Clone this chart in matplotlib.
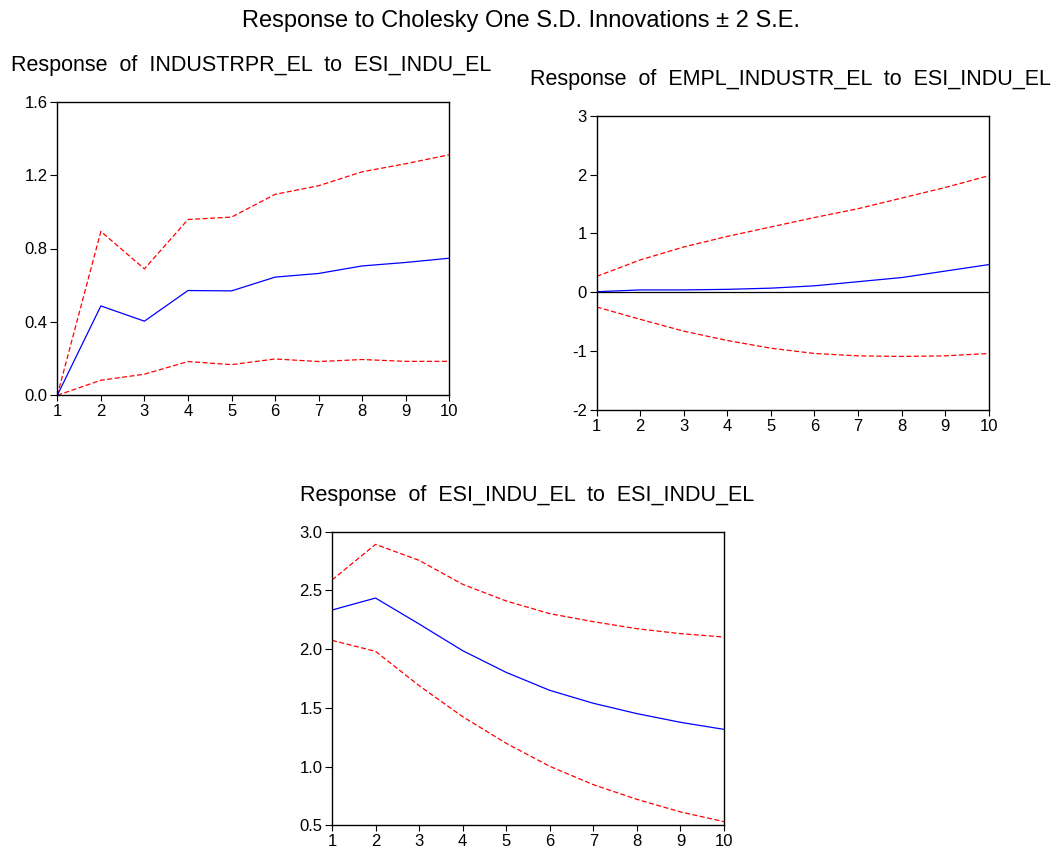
import numpy as np
import matplotlib.pyplot as plt

plt.rcParams['font.family'] = ['Liberation Sans', 'DejaVu Sans']

periods = np.arange(1, 11)

# Response of INDUSTRPR_EL to ESI_INDU_EL
ind_resp = [0.0, 0.487, 0.404, 0.571, 0.569, 0.644, 0.664, 0.705, 0.724, 0.747]
ind_up = [0.0, 0.893, 0.689, 0.958, 0.971, 1.095, 1.142, 1.218, 1.262, 1.311]
ind_lo = [0.0, 0.082, 0.115, 0.184, 0.167, 0.198, 0.184, 0.195, 0.185, 0.185]

# Response of EMPL_INDUSTR_EL to ESI_INDU_EL
emp_resp = [0.01, 0.04, 0.04, 0.05, 0.07, 0.11, 0.18, 0.25, 0.36, 0.47]
emp_up = [0.27, 0.55, 0.77, 0.95, 1.11, 1.27, 1.42, 1.60, 1.78, 1.98]
emp_lo = [-0.25, -0.46, -0.66, -0.82, -0.95, -1.04, -1.08, -1.09, -1.08, -1.04]

# Response of ESI_INDU_EL to ESI_INDU_EL
esi_resp = [2.333, 2.435, 2.214, 1.987, 1.802, 1.649, 1.539, 1.451, 1.377, 1.317]
esi_up = [2.589, 2.892, 2.756, 2.552, 2.410, 2.302, 2.234, 2.174, 2.132, 2.103]
esi_lo = [2.075, 1.981, 1.689, 1.425, 1.198, 1.002, 0.846, 0.721, 0.614, 0.531]

W, H = 1059, 851
fig = plt.figure(figsize=(W/100, H/100), dpi=100)

def px_axes(left, top, right, bottom):
    return fig.add_axes([left/W, 1 - bottom/H, (right-left)/W, (bottom-top)/H])

def panel(ax, resp, up, lo, ylim, yticks, fmt, zero=False):
    if zero:
        ax.axhline(0, color='black', lw=0.9)
    ax.plot(periods, up, color='red', lw=0.9, ls=(0, (4, 2)))
    ax.plot(periods, lo, color='red', lw=0.9, ls=(0, (4, 2)))
    ax.plot(periods, resp, color='blue', lw=0.9)
    ax.set_xlim(1, 10)
    ax.set_ylim(*ylim)
    ax.set_xticks(periods)
    ax.set_yticks(yticks)
    ax.set_yticklabels([fmt % v for v in yticks])
    ax.tick_params(direction='out', length=5, width=0.8, labelsize=12, colors='black')
    ax.tick_params(axis='y', pad=2)
    ax.tick_params(axis='x', length=4, pad=2.5)
    for s in ax.spines.values():
        s.set_linewidth(1.0)

ax1 = px_axes(57.3, 101.7, 449.3, 395.3)
panel(ax1, ind_resp, ind_up, ind_lo, (0, 1.6), [0.0, 0.4, 0.8, 1.2, 1.6], '%.1f')

ax2 = px_axes(596.7, 115.7, 988.7, 410)
panel(ax2, emp_resp, emp_up, emp_lo, (-2, 3), [-2, -1, 0, 1, 2, 3], '%d', zero=True)

ax3 = px_axes(332, 531.7, 724, 825.3)
panel(ax3, esi_resp, esi_up, esi_lo, (0.5, 3.0), [0.5, 1.0, 1.5, 2.0, 2.5, 3.0], '%.1f')

fig.text(521/W, 1 - 21/H, 'Response to Cholesky One S.D. Innovations \u00b1 2 S.E.',
         ha='center', va='center', fontsize=17)
fig.text(251/W, 1 - 65/H, 'Response  of  INDUSTRPR_EL  to  ESI_INDU_EL',
         ha='center', va='center', fontsize=15.5)
fig.text(791/W, 1 - 80/H, 'Response  of  EMPL_INDUSTR_EL  to  ESI_INDU_EL',
         ha='center', va='center', fontsize=15.5)
fig.text(527/W, 1 - 495/H, 'Response  of  ESI_INDU_EL  to  ESI_INDU_EL',
         ha='center', va='center', fontsize=15.5)

fig.savefig('out.png', dpi=100)
